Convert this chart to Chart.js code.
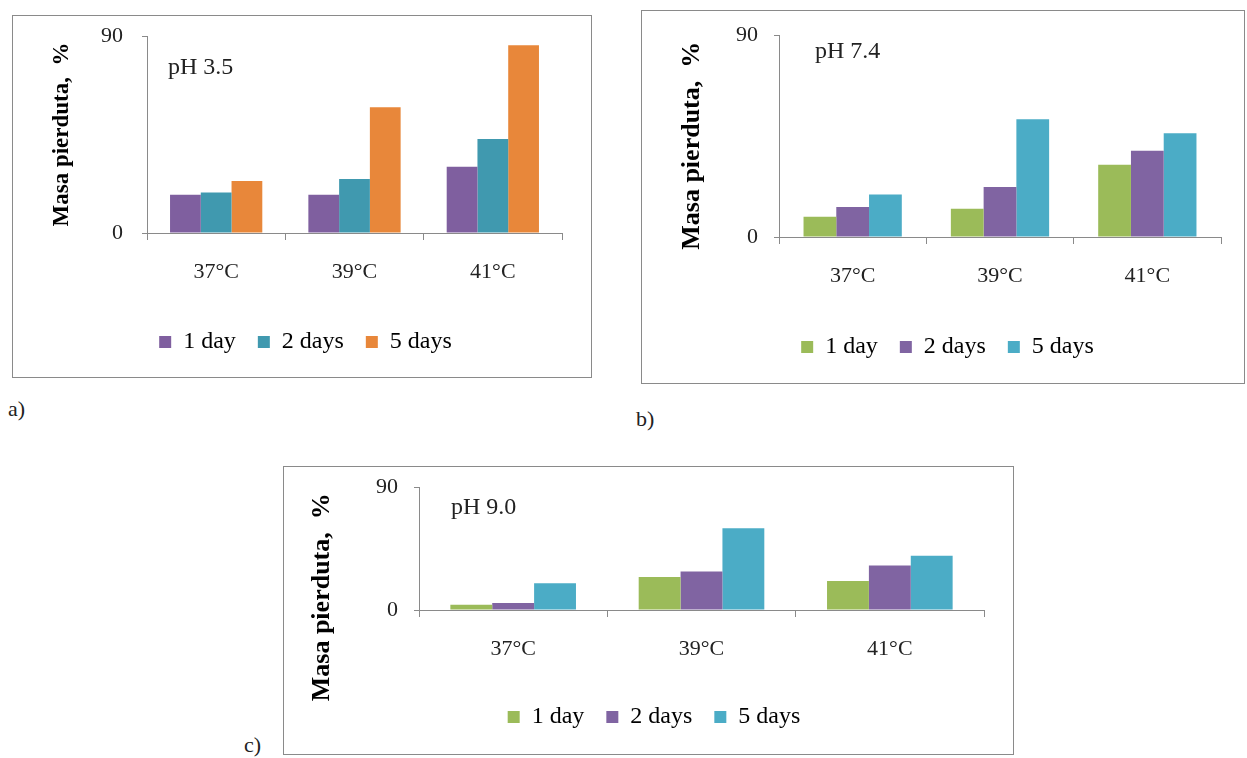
<!DOCTYPE html>
<html>
<head>
<meta charset="utf-8">
<script src="https://cdn.jsdelivr.net/npm/chart.js@4"></script>
<style>
  body { margin: 0; background: #fff; width: 1247px; height: 758px; position: relative; overflow: hidden; font-family: "Liberation Serif", serif; }
  .box { position: absolute; border: 1px solid #8a8a8a; }
  .box canvas { display: block; }
  .tag { position: absolute; font-size: 22px; color: #222; }
</style>
</head>
<body>
<div class="box" style="left:12px; top:15px; width:578px; height:361px;"><canvas id="chartA" width="578" height="361"></canvas></div>
<div class="box" style="left:641px; top:10px; width:602px; height:372px;"><canvas id="chartB" width="602" height="372"></canvas></div>
<div class="box" style="left:283px; top:466px; width:729px; height:287px;"><canvas id="chartC" width="729" height="287"></canvas></div>
<div class="tag" style="left:8px; top:396px;">a)</div>
<div class="tag" style="left:636px; top:406px;">b)</div>
<div class="tag" style="left:244px; top:732px;">c)</div>
<script>
const temps = ['37°C', '39°C', '41°C'];
const seriesNames = ['1 day', '2 days', '5 days'];

// pH 3.5
const ph35Day1 = [17.5, 17.5, 30.3];
const ph35Day2 = [18.5, 24.7, 43.0];
const ph35Day5 = [23.8, 57.4, 85.8];

// pH 7.4
const ph74Day1 = [9.0, 12.6, 32.2];
const ph74Day2 = [13.4, 22.3, 38.4];
const ph74Day5 = [18.9, 52.5, 46.2];

// pH 9.0
const ph90Day1 = [3.9, 24.1, 21.2];
const ph90Day2 = [5.1, 28.2, 32.5];
const ph90Day5 = [19.5, 59.9, 39.7];

const yTicks = [0, 90];
const yTitle = 'Masa pierduta,  %';

Chart.defaults.font.family = '"Liberation Serif", "Times New Roman", serif';
Chart.defaults.color = '#222';

// the "pH x" note in the upper-left of each plot
const phLabel = {
  id: 'phLabel',
  afterDraw(chart, args, opts) {
    const ctx = chart.ctx;
    const area = chart.chartArea;
    ctx.save();
    ctx.font = '24px "Liberation Serif"';
    ctx.fillStyle = '#222';
    ctx.textBaseline = 'middle';
    ctx.fillText(opts.text, area.left + opts.dx, area.top + opts.dy);
    ctx.restore();
  }
};

function makeChart(id, values, colors, cfg) {
  const ctx = document.getElementById(id).getContext('2d');
  return new Chart(ctx, {
    type: 'bar',
    data: {
      labels: temps,
      datasets: seriesNames.map((name, i) => ({
        label: name,
        data: values[i],
        backgroundColor: colors[i],
        borderWidth: 0,
        categoryPercentage: 0.667,
        barPercentage: 1
      }))
    },
    options: {
      responsive: false,
      animation: false,
      layout: { padding: { left: cfg.left, top: cfg.top, right: cfg.right, bottom: cfg.bottom } },
      scales: {
        x: {
          grid: { drawOnChartArea: false, offset: true, tickLength: 7, color: '#8a8a8a' },
          border: { color: '#8a8a8a' },
          ticks: { padding: 19, font: { size: 22 } },
          afterFit(s) {
            s.height = cfg.xHeight;
            s.paddingLeft = 0;
            s.paddingRight = 0;
          }
        },
        y: {
          min: 0,
          max: 90,
          afterBuildTicks(s) { s.ticks = yTicks.map(v => ({ value: v })); },
          grid: { drawOnChartArea: false, tickLength: 5, color: '#8a8a8a' },
          border: { color: '#8a8a8a' },
          ticks: { padding: cfg.tickPad, font: { size: 22 } },
          title: {
            display: true,
            text: yTitle + cfg.titleTail,
            color: '#000',
            font: { size: cfg.titleSize, weight: 'bold' },
            padding: { top: cfg.titlePad, bottom: 0 }
          },
          afterFit(s) {
            s.width = cfg.yWidth;
            s.paddingTop = 0;
            s.paddingBottom = 0;
          }
        }
      },
      plugins: {
        legend: {
          position: 'bottom',
          labels: { boxWidth: 12, boxHeight: 12, padding: 22, color: '#000', font: { size: 24 } }
        },
        tooltip: { enabled: false },
        phLabel: { text: cfg.ph, dx: cfg.phX, dy: cfg.phY }
      }
    },
    plugins: [phLabel]
  });
}

makeChart('chartA', [ph35Day1, ph35Day2, ph35Day5], ['#7f5f9f', '#4099af', '#e8873a'],
  { left: 36, top: 20, right: 29, bottom: 13, xHeight: 75, yWidth: 98, tickPad: 19,
    titlePad: -1, titleSize: 23, titleTail: '', ph: 'pH 3.5', phX: 21, phY: 32 });

makeChart('chartB', [ph74Day1, ph74Day2, ph74Day5], ['#9bbb59', '#8064a2', '#4bacc6'],
  { left: 32, top: 24, right: 23, bottom: 14, xHeight: 76, yWidth: 105, tickPad: 16,
    titlePad: 3, titleSize: 26, titleTail: '\u00a0'.repeat(3), ph: 'pH 7.4', phX: 36, phY: 17 });

makeChart('chartC', [ph90Day1, ph90Day2, ph90Day5], ['#9bbb59', '#8064a2', '#4bacc6'],
  { left: 40, top: 20, right: 29, bottom: 15, xHeight: 73, yWidth: 95, tickPad: 16,
    titlePad: -17, titleSize: 26, titleTail: '\u00a0'.repeat(15), ph: 'pH 9.0', phX: 32, phY: 21 });
</script>
</body>
</html>
